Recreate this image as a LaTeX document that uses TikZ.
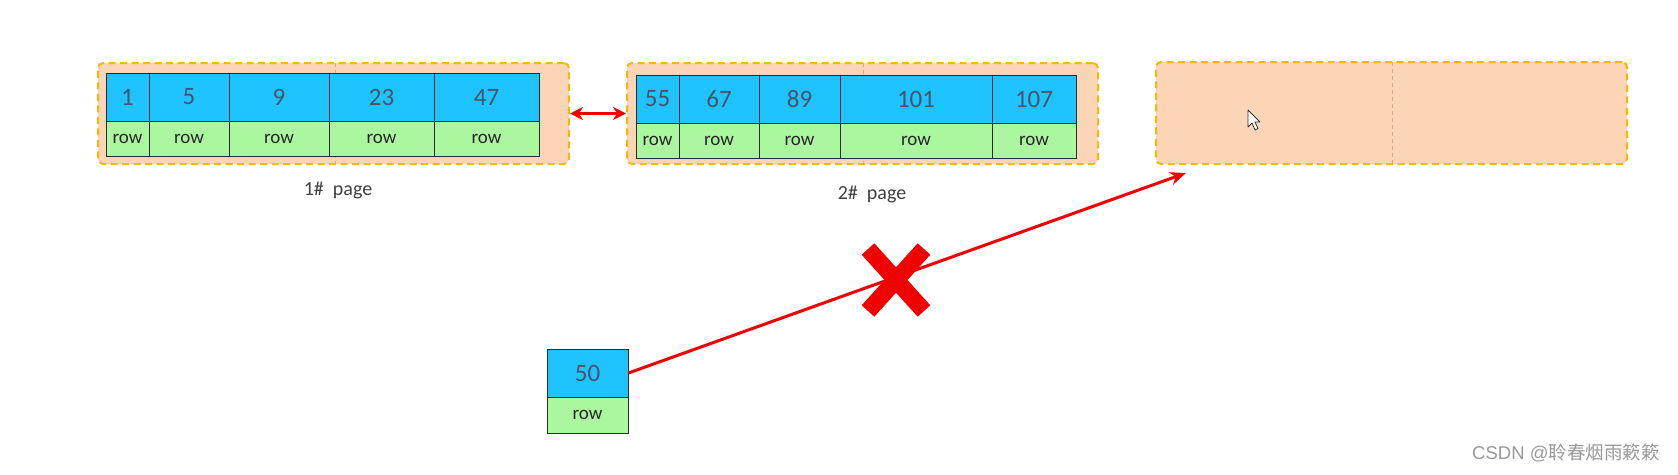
\documentclass[tikz,border=0pt]{standalone}
\usepackage{fontspec}
\setmainfont{Carlito}
\newfontfamily\wmfont{Liberation Sans}
\newfontfamily\cjkfont{Noto Sans CJK SC}
\usetikzlibrary{arrows.meta}
\definecolor{keyblue}{HTML}{1EC3FF}
\definecolor{rowgreen}{HTML}{AAF7A0}
\definecolor{keytext}{HTML}{44546A}
\definecolor{cellborder}{HTML}{2B2B2B}
\definecolor{pageorange}{HTML}{FBD5B5}
\definecolor{pageedge}{HTML}{F2BA00}
\definecolor{innerline}{HTML}{D9A97E}
\definecolor{labelgray}{HTML}{404040}
\definecolor{arrowred}{HTML}{F00000}
\tikzset{
  cellbase/.style={draw=cellborder, line width=0.9pt, inner sep=0pt, rectangle},
  keycell/.style={cellbase, fill=keyblue, text=keytext, font=\fontsize{25}{25}\selectfont},
  rowcell/.style={cellbase, fill=rowgreen, text=black!85, font=\fontsize{19}{19}\selectfont},
  pagebox/.style={rectangle, rounded corners=5pt, fill=pageorange, draw=pageedge,
    line width=2pt, dash pattern=on 7pt off 4.5pt, inner sep=0pt},
  innerdash/.style={draw=innerline, line width=0.8pt, dash pattern=on 4pt off 3pt},
  pagelabel/.style={text=labelgray, font=\fontsize{20}{20}\selectfont},
  redline/.style={draw=arrowred, line width=3pt},
  crossmark/.style={draw=arrowred, line width=17pt},
}
\newcommand\mkcell[7]{\node[#6, minimum width={(#4-#2)*1pt}, minimum height={(#5-#3)*1pt}] (#1) at ({(#2+#4)/2},{(#3+#5)/2}) {#7};}
\newcommand\mkbox[5]{\node[pagebox, minimum width={(#4-#2)*1pt}, minimum height={(#5-#3)*1pt}] (#1) at ({(#2+#4)/2},{(#3+#5)/2}) {};}
\begin{document}
\begin{tikzpicture}[x=1pt,y=-1pt]
\fill[white] (0,0) rectangle (1678,474);
\useasboundingbox (0,0) rectangle (1678,474);
% page boxes
\mkbox{p1}{98}{63}{569}{164}
\mkbox{p2}{627}{63}{1098}{164}
\mkbox{p3}{1156}{62}{1627}{164}
\coordinate (m1) at (335,0);
\coordinate (m2) at (863,0);
\coordinate (m3) at (1392,0);
\draw[innerdash] ([yshift=-1pt]p1.north -| m1) -- ([yshift=1pt]p1.south -| m1);
\draw[innerdash] ([yshift=-1pt]p2.north -| m2) -- ([yshift=1pt]p2.south -| m2);
\draw[innerdash] ([yshift=-1pt]p3.north -| m3) -- ([yshift=1pt]p3.south -| m3);
% page 1 cells
\mkcell{a1}{106}{73}{149}{121}{keycell}{1}
\mkcell{a2}{149}{73}{229}{121}{keycell}{5}
\mkcell{a3}{229}{73}{329}{121}{keycell}{9}
\mkcell{a4}{329}{73}{434}{121}{keycell}{23}
\mkcell{a5}{434}{73}{539}{121}{keycell}{47}
\mkcell{r1}{106}{121}{149}{156}{rowcell}{row}
\mkcell{r2}{149}{121}{229}{156}{rowcell}{row}
\mkcell{r3}{229}{121}{329}{156}{rowcell}{row}
\mkcell{r4}{329}{121}{434}{156}{rowcell}{row}
\mkcell{r5}{434}{121}{539}{156}{rowcell}{row}
% page 2 cells
\mkcell{b1}{636}{75}{679}{123}{keycell}{55}
\mkcell{b2}{679}{75}{759}{123}{keycell}{67}
\mkcell{b3}{759}{75}{840}{123}{keycell}{89}
\mkcell{b4}{840}{75}{992}{123}{keycell}{101}
\mkcell{b5}{992}{75}{1076}{123}{keycell}{107}
\mkcell{s1}{636}{123}{679}{158}{rowcell}{row}
\mkcell{s2}{679}{123}{759}{158}{rowcell}{row}
\mkcell{s3}{759}{123}{840}{158}{rowcell}{row}
\mkcell{s4}{840}{123}{992}{158}{rowcell}{row}
\mkcell{s5}{992}{123}{1076}{158}{rowcell}{row}
% new record
\mkcell{k50}{547}{349}{628}{397}{keycell}{50}
\mkcell{r50}{547}{397}{628}{433}{rowcell}{row}
% labels
\node[pagelabel] (l1) at (338,190) {1\#\ \ page};
\node[pagelabel] (l2) at (872,194) {2\#\ \ page};
% arrows
\draw[redline, {Stealth[length=13pt,width=13pt]}-{Stealth[length=13pt,width=13pt]}] (p1.east) -- (p2.west);
\coordinate (tip) at (1186,173);
\draw[redline, -{Stealth[length=16pt,width=13pt]}] (k50.east) -- (tip);
% cross
\draw[crossmark] (868,249) -- (924,311);
\draw[crossmark] (924,249) -- (868,311);
% mouse cursor
\draw[fill=white, draw=black!80, line width=0.8pt, line join=round]
  (1248,110) -- (1248,127) -- (1252,123) -- (1255,130) -- (1258,128.5) -- (1255,122) -- (1260,122) -- cycle;
% watermark
\node[anchor=west, inner sep=0pt, text=black!40] (wm) at (1472,453)
  {\fontsize{18.5}{19}\selectfont\wmfont CSDN @\cjkfont 聆春烟雨簌簌};
\end{tikzpicture}
\end{document}
